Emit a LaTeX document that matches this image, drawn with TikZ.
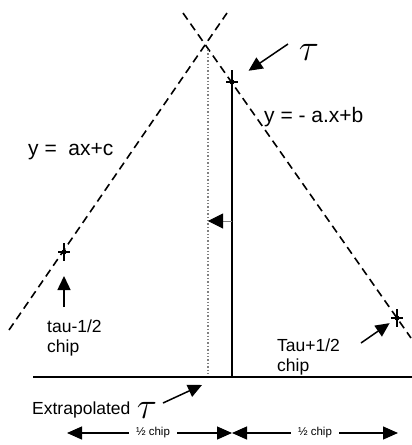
\documentclass[tikz,border=0pt]{standalone}
\usepackage{fontspec}
\setmainfont{Liberation Sans}
\usetikzlibrary{arrows.meta,positioning}

\tikzset{
  fitline/.style={dash pattern=on 8pt off 5pt, line width=1.6pt},
  ptarrow/.style={-{Triangle[length=14pt,width=13pt]}, line width=1.5pt},
  dimarrow/.style={-{Triangle[length=15pt,width=13pt]}, line width=1.3pt},
  fitlbl/.style={font=\fontsize{21}{23}\selectfont, inner sep=0pt, anchor=west},
  ptlbl/.style={font=\fontsize{17.5}{20}\selectfont, inner sep=0pt, anchor=west, align=left},
  taulbl/.style={font=\Huge, inner sep=0pt},
  halflbl/.style={font=\fontsize{11.5}{12}\selectfont, inner sep=0pt},
  corrmark/.style={line width=2pt}
}
\newcommand{\bigtau}{\scalebox{1.5}{$\tau$}}

\begin{document}
\begin{tikzpicture}[x=1pt,y=-1pt]
\useasboundingbox (0,0) rectangle (412,445);
\coordinate (leftend) at (9,330);
\coordinate (lefttop) at (227,13);
\coordinate (righttop) at (183,13);
\coordinate (rightend) at (411,338);
\coordinate (lowstar) at (64,252);
\coordinate (topstar) at (232,82);
\coordinate (highstar) at (397,318);
\coordinate (apexfoot) at (208,50);
\coordinate (extrap) at (208,377);
\coordinate (axisl) at (33,377);
\coordinate (axisr) at (412,377);
\coordinate (peakfoot) at (232,377);
\coordinate (peaktop) at (232,70);

\draw[fitline] (leftend) -- (lefttop);
\draw[fitline] (righttop) -- (rightend);
\draw[line width=1.4pt,gray,dotted] (apexfoot) -- (extrap);
\draw[line width=1.5pt] (axisl) -- (axisr);
\draw[line width=1.5pt] (peaktop) -- (peakfoot);
\foreach \s in {lowstar,topstar,highstar}{
  \draw[corrmark] (\s) +(-6,0) -- +(6,0) +(0,-9) -- +(0,9);
  \fill (\s) circle (2.5pt);
}

\coordinate (shiftfrom) at (232,221);
\coordinate (shiftto) at (208,221);
\draw[gray,line width=1pt,-{Triangle[length=15pt,width=15pt,color=black]}] (shiftfrom) -- (shiftto);

\node[fitlbl] (leftfit) at (28,152) {y =\ \ ax+c};
\node[fitlbl] (rightfit) at (264,117) {y = - a.x+b};

\node[taulbl] (tautop) at (309,52) {\bigtau};
\coordinate (tautail) at (288,44);
\draw[ptarrow,shorten >=20pt] (tautail) -- (topstar);

\node[ptlbl] (lowlbl) at (47,338) {tau-1/2\\chip};
\coordinate (lowtail) at (64,307);
\draw[ptarrow,shorten >=24pt] (lowtail) -- (lowstar);

\node[ptlbl] (highlbl) at (277,357) {Tau+1/2\\chip};
\coordinate (hightail) at (361,343);
\draw[ptarrow,shorten >=9pt] (hightail) -- (highstar);

\node[ptlbl] (extlbl) at (32,410) {Extrapolated};
\node[taulbl, right=6pt of extlbl] (tauext) {\bigtau};
\coordinate (exttail) at (163,403);
\coordinate (exttip) at (202,385);
\draw[ptarrow] (exttail) -- (exttip);

\node[halflbl] (halfa) at (153,433) {½ chip};
\node[halflbl] (halfb) at (315,433) {½ chip};
\coordinate (dimleft) at (67,433);
\coordinate (dimmid) at (232,433);
\coordinate (dimright) at (398,433);
\draw[dimarrow] ([xshift=-7pt]halfa.west) -- (dimleft);
\draw[dimarrow] ([xshift=7pt]halfa.east) -- (dimmid);
\draw[dimarrow] ([xshift=-7pt]halfb.west) -- (dimmid);
\draw[dimarrow] ([xshift=7pt]halfb.east) -- (dimright);
\end{tikzpicture}
\end{document}
